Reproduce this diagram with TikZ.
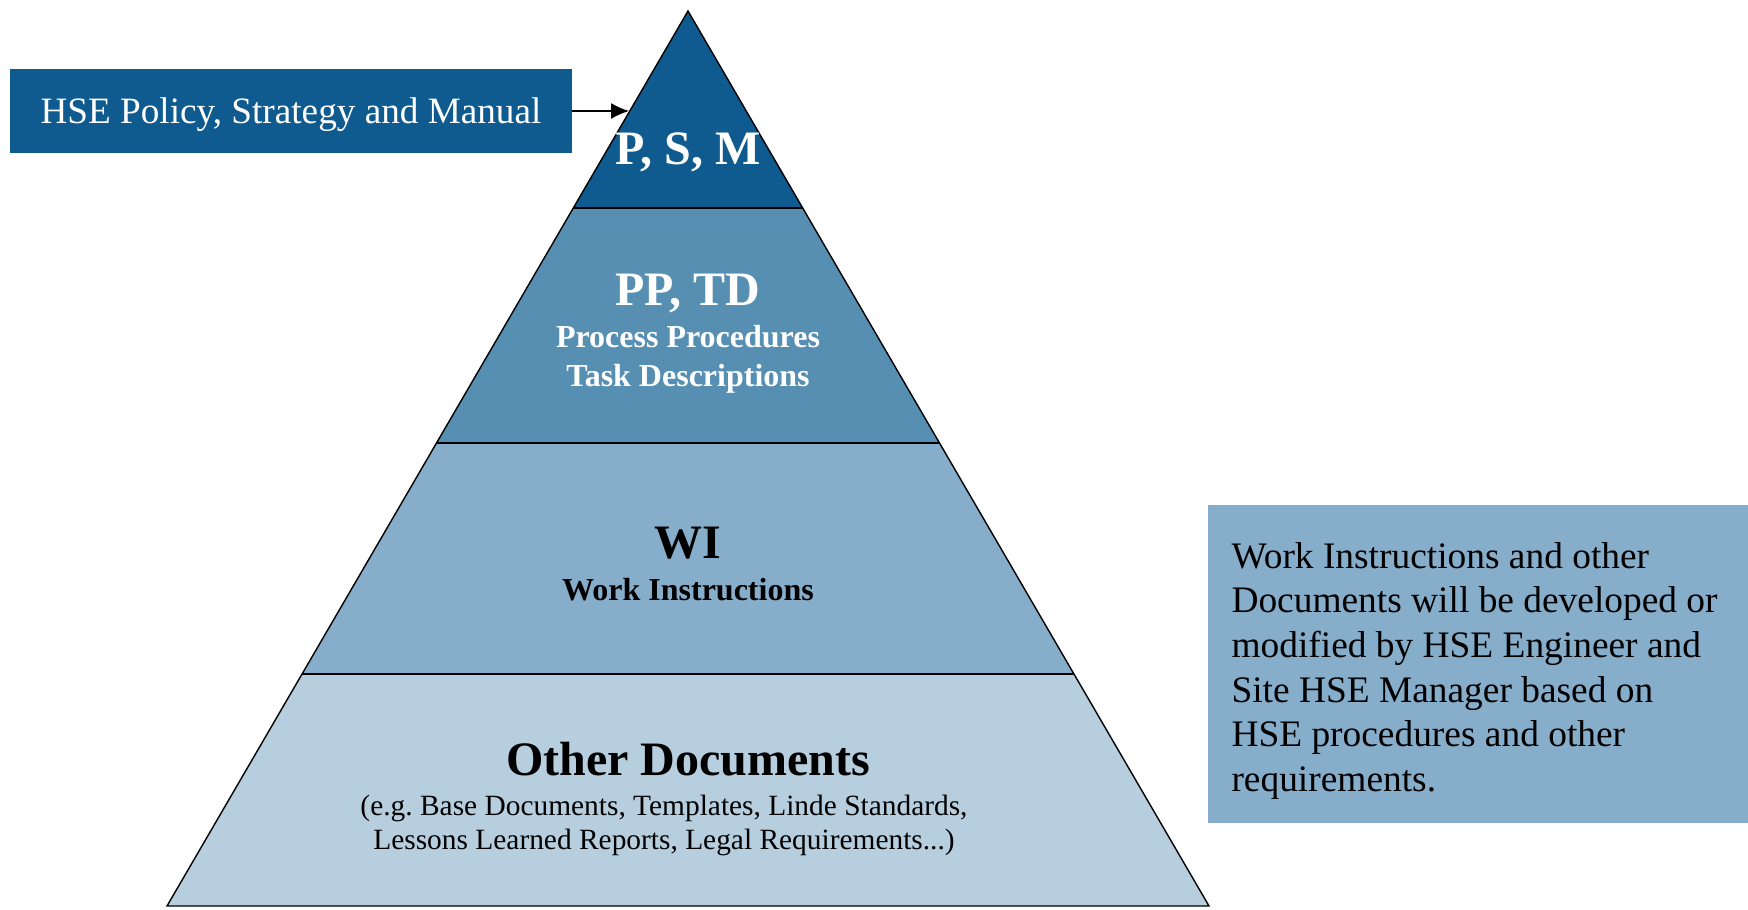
\documentclass[tikz,border=0pt]{standalone}
\usepackage{fontspec}
\setmainfont{Liberation Serif}
\usetikzlibrary{arrows.meta}
\definecolor{psmblue}{HTML}{0F5B8F}
\definecolor{ppblue}{HTML}{578FB3}
\definecolor{wiblue}{HTML}{86ADC9}
\definecolor{docblue}{HTML}{B7CEDF}
\begin{document}
\begin{tikzpicture}[x=0.5pt, y=-0.5pt,
  divider/.style={line width=1pt},
  title/.style={anchor=base, inner sep=0pt, font=\fontsize{24}{28}\selectfont\bfseries},
  sub/.style={anchor=base, inner sep=0pt, font=\fontsize{16}{19}\selectfont\bfseries},
  small/.style={anchor=base, inner sep=0pt, font=\fontsize{14.7}{17.3}\selectfont},
  policybox/.style={fill=psmblue, text=white, minimum width=281pt, minimum height=42pt,
    inner sep=0pt, text depth=0pt, font=\fontsize{18.6}{22}\selectfont},
  notebox/.style={fill=wiblue, minimum width=270.5pt, minimum height=159pt, inner sep=0pt},
  notetext/.style={anchor=west, inner sep=0pt, align=left,
    font=\fontsize{18.7}{22.3}\selectfont}]
  \useasboundingbox (0,0) rectangle (1748,909);
  % koordinate
  \coordinate (T) at (688,11);
  \coordinate (L1) at (573,208);
  \coordinate (R1) at (803,208);
  \coordinate (L2) at (436,443);
  \coordinate (R2) at (940,443);
  \coordinate (L3) at (302,674);
  \coordinate (R3) at (1074,674);
  \coordinate (L4) at (167,906);
  \coordinate (R4) at (1209,906);
  \coordinate (tip) at (629,111);
  % tiers
  \fill [psmblue] (T) -- (R1) -- (L1) -- cycle;
  \fill [ppblue] (L1) -- (R1) -- (R2) -- (L2) -- cycle;
  \fill [wiblue] (L2) -- (R2) -- (R3) -- (L3) -- cycle;
  \fill [docblue] (L3) -- (R3) -- (R4) -- (L4) -- cycle;
  % edges
  \draw [line width=0.7pt] (L4) -- (T) -- (R4) -- cycle;
  \draw [divider] (L1) -- (R1);
  \draw [divider] (L2) -- (R2);
  \draw [divider] (L3) -- (R3);
  % labels
  \node [title, text=white] (psm) at (688,165) {P, S, M};
  \node [title, text=white] (pptd) at (688,305) {PP, TD};
  \node [sub, text=white] (pp) at (688,347) {Process Procedures};
  \node [sub, text=white] (td) at (688,386) {Task Descriptions};
  \node [title] (wi) at (688,558) {WI};
  \node [sub] (winame) at (688,600) {Work Instructions};
  \node [title] (other) at (688,775) {Other Documents};
  \node [small] (eg) at (664,815) {(e.g.\ Base Documents, Templates, Linde Standards,};
  \node [small] (lessons) at (664,849) {Lessons Learned Reports, Legal Requirements...)};
  % boxes
  \node [policybox] (policy) at (291,111) {HSE Policy, Strategy and Manual};
  \node [notebox] (note) at (1478,664) {};
  \node [notetext] (notetxt) at ([xshift=12pt, yshift=-3.4pt]note.west) {Work Instructions and other\\
    Documents will be developed or\\
    modified by HSE Engineer and\\
    Site HSE Manager based on\\
    HSE procedures and other\\
    requirements.};
  % arrow
  \draw [-{Latex[length=9pt, width=8pt]}, line width=0.7pt] (policy.east) -- (tip);
\end{tikzpicture}
\end{document}
